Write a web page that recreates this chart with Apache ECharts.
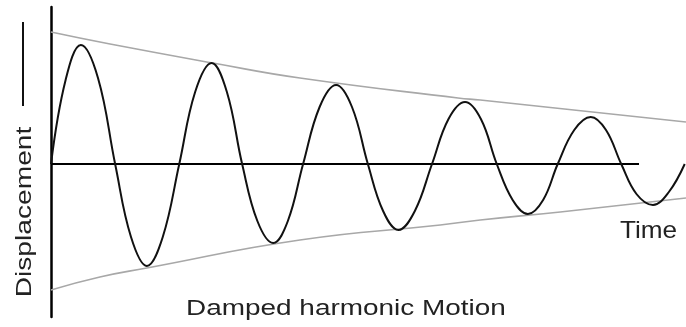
<!DOCTYPE html>
<html>
<head>
<meta charset="utf-8">
<script src="https://cdn.jsdelivr.net/npm/echarts@6/dist/echarts.min.js"></script>
<style>
html,body{margin:0;padding:0;background:#fff;}
#chart{width:686px;height:327px;}
</style>
</head>
<body>
<div id="chart"></div>
<script>
// Damped oscillation: [time, displacement]
const wavePoints = [
  [0, 0], [2.3, 0.84], [4.7, 1.19], [7.4, 0.86], [10.1, 0],
  [12.6, -0.73], [15.1, -1.02], [17.6, -0.73], [20.2, 0],
  [22.7, 0.72], [25.3, 1.01], [27.7, 0.72], [30.1, 0],
  [32.5, -0.57], [35.0, -0.79], [37.3, -0.57], [39.7, 0],
  [42.3, 0.57], [44.9, 0.79], [47.4, 0.57], [49.9, 0],
  [52.3, -0.47], [54.7, -0.66], [57.3, -0.47], [60.0, 0],
  [62.6, 0.45], [65.2, 0.62], [67.7, 0.45], [70.2, 0],
  [72.7, -0.36], [75.1, -0.50], [77.5, -0.36], [79.8, 0],
  [82.4, 0.34], [85.0, 0.47], [87.4, 0.34], [89.8, 0],
  [92.2, -0.30], [94.8, -0.41], [97.3, -0.28], [99.8, 0]
];
// Decay envelopes
const upperEnvelope = [[0, 1.32], [9.3, 1.20], [25.5, 1.01], [39.2, 0.86], [64.1, 0.66], [67.6, 0.64], [100, 0.42]];
const lowerEnvelope = [[0, -1.26], [7.7, -1.13], [15.1, -1.04], [39.2, -0.76], [61.3, -0.61], [67.6, -0.56], [80.2, -0.48], [100, -0.34]];
// Equilibrium (time axis) line
const equilibrium = [[0, 0], [92.6, 0]];
// Texts
const yLabel = 'Displacement';
const xLabel = 'Time';
const chartTitle = 'Damped harmonic Motion';

const FONT = '"Liberation Sans", Arial, sans-serif';
const chart = echarts.init(document.getElementById('chart'), null, {renderer: 'canvas'});
chart.setOption({
  animation: false,
  backgroundColor: '#ffffff',
  grid: {left: 51, right: 0, top: 7, bottom: 10, containLabel: false},
  xAxis: {
    type: 'value', min: 0, max: 100,
    show: false
  },
  yAxis: {
    type: 'value', min: -1.53, max: 1.57,
    axisLine: {show: true, onZero: false, lineStyle: {color: '#000', width: 2.5}},
    axisTick: {show: false},
    axisLabel: {show: false},
    splitLine: {show: false}
  },
  series: [
    {
      type: 'line', data: upperEnvelope, smooth: true, symbol: 'none',
      lineStyle: {color: '#a8a8a8', width: 1.6}, silent: true
    },
    {
      type: 'line', data: lowerEnvelope, smooth: true, symbol: 'none',
      lineStyle: {color: '#a8a8a8', width: 1.6}, silent: true
    },
    {
      type: 'line', data: equilibrium, symbol: 'none',
      lineStyle: {color: '#000', width: 2}, silent: true
    },
    {
      type: 'line', data: wavePoints, smooth: 0.4, symbol: 'none',
      lineStyle: {color: '#111', width: 2}, silent: true
    }
  ],
  graphic: [
    {
      type: 'text', x: 25, y: 212, rotation: Math.PI / 2, scaleX: 1.28,
      style: {text: yLabel, font: '22px ' + FONT, fill: '#222', align: 'center', verticalAlign: 'middle'}
    },
    {
      type: 'line', shape: {x1: 23, y1: 22, x2: 23, y2: 106},
      style: {stroke: '#111', lineWidth: 2}
    },
    {
      type: 'text', x: 186, y: 309, scaleX: 1.27,
      style: {text: chartTitle, font: '22px ' + FONT, fill: '#222', align: 'left', verticalAlign: 'middle'}
    },
    {
      type: 'text', x: 620, y: 231, scaleX: 1.09,
      style: {text: xLabel, font: '24px ' + FONT, fill: '#222', align: 'left', verticalAlign: 'middle'}
    }
  ]
});
</script>
</body>
</html>
